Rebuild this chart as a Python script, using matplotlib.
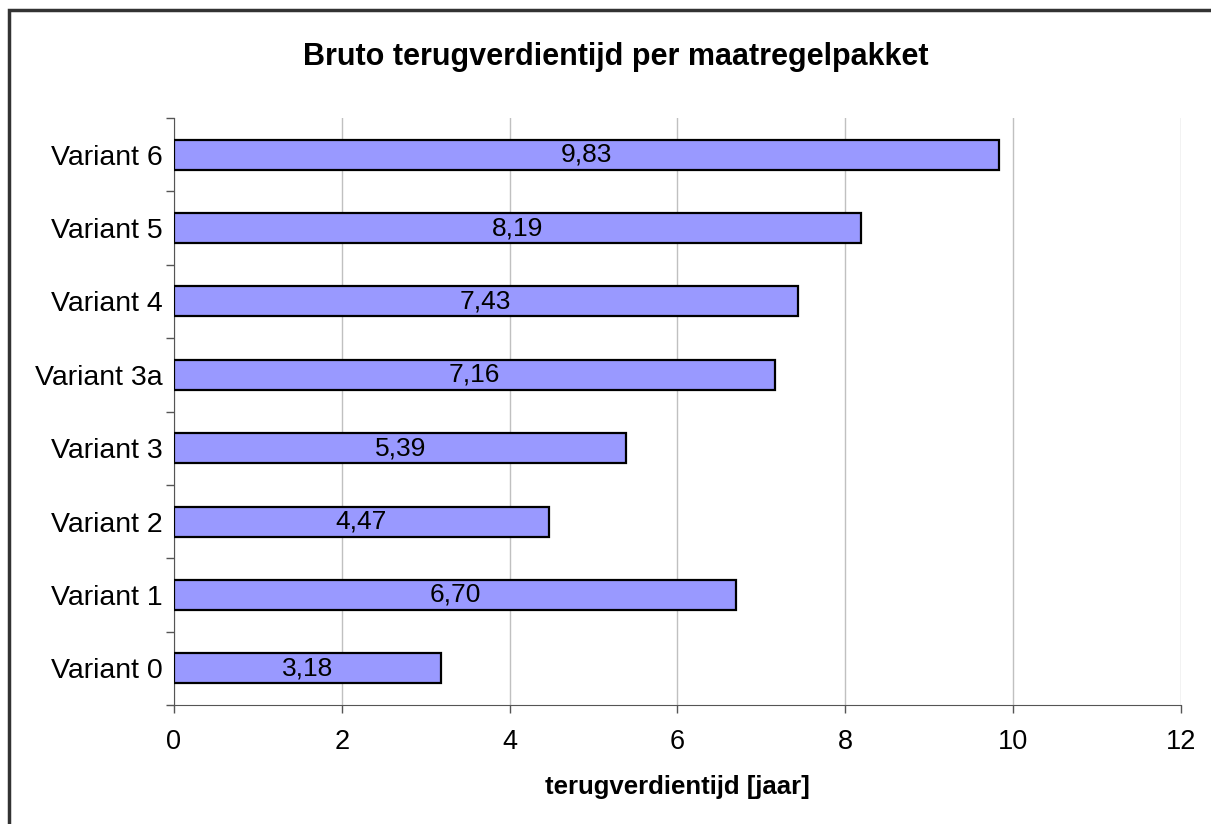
import matplotlib.pyplot as plt
from matplotlib.patches import Rectangle

plt.rcParams['font.family'] = ['Liberation Sans', 'DejaVu Sans']

# data
varianten = ["Variant 0", "Variant 1", "Variant 2", "Variant 3",
             "Variant 3a", "Variant 4", "Variant 5", "Variant 6"]
terugverdientijd = [3.18, 6.70, 4.47, 5.39, 7.16, 7.43, 8.19, 9.83]

fig = plt.figure(figsize=(12.11, 8.24), dpi=100)
ax = fig.add_axes([174/1211, 1-705/824, (1181-174)/1211, (705-118)/824])

# kader rond de grafiek
fig.patches.append(Rectangle((9/1211, -0.05), 1.1, 1-10/824+0.05, transform=fig.transFigure,
                             fill=False, edgecolor='#333333', linewidth=2.5, clip_on=False))

pos = list(range(len(varianten)))
ax.barh(pos, terugverdientijd, height=0.41, color='#9999FF', edgecolor='black',
        linewidth=1.6, zorder=3)

for p, v in zip(pos, terugverdientijd):
    ax.text(v/2, p, f"{v:.2f}".replace('.', ','), ha='center', va='center',
            fontsize=19, zorder=4)

ax.set_xlim(0, 12)
ax.set_ylim(-0.5, len(varianten)-0.5)
ax.set_xticks(range(0, 13, 2))
ax.tick_params(axis='x', labelsize=19.5, length=6, width=1, color='#555555', pad=11)
ax.set_yticks(pos)
ax.set_yticklabels(varianten, fontsize=20.5)
ax.tick_params(axis='y', length=0, pad=8)
ax.set_yticks([p - 0.5 for p in pos] + [len(pos) - 0.5], minor=True)
ax.tick_params(axis='y', which='minor', length=6, width=1, color='#555555')

ax.grid(axis='x', color='#c0c0c0', linewidth=1, zorder=0)
ax.spines['top'].set_visible(False)
ax.spines['right'].set_visible(False)
ax.spines['left'].set_color('#555555')
ax.spines['bottom'].set_color('#555555')

fig.text(677/1211, 1-787/824, "terugverdientijd [jaar]", ha='center', va='center',
         fontsize=18.5, fontweight='bold')
fig.text(616/1211, 1-57/824, "Bruto terugverdientijd per maatregelpakket",
         ha='center', va='center', fontsize=22, fontweight='bold')

fig.savefig("out.png", dpi=100)
